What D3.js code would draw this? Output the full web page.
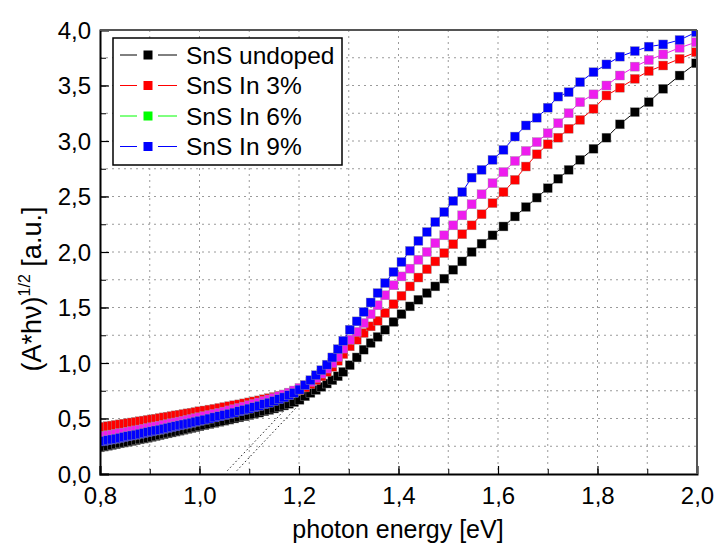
<!DOCTYPE html>
<html>
<head>
<meta charset="utf-8">
<script src="https://cdn.jsdelivr.net/npm/d3@7"></script>
<style>
  body { margin: 0; background: #fff; }
  svg text { font-family: "Liberation Sans", Arial, sans-serif; fill: #000; }
</style>
</head>
<body>
<svg id="chart" width="716" height="552"></svg>
<script>
// photon energy [eV], shared by all four series
var energy = [
  0.800, 0.808, 0.816, 0.824, 0.832, 0.840, 0.848, 0.856, 0.864, 0.872,
  0.880, 0.888, 0.896, 0.904, 0.912, 0.920, 0.928, 0.936, 0.944, 0.952,
  0.960, 0.968, 0.976, 0.984, 0.992, 1.000, 1.010, 1.020, 1.030, 1.040,
  1.050, 1.060, 1.070, 1.080, 1.090, 1.100, 1.110, 1.120, 1.130, 1.140,
  1.150, 1.160, 1.170, 1.180, 1.190, 1.201, 1.212, 1.223, 1.234, 1.245,
  1.256, 1.267, 1.278, 1.289, 1.302, 1.316, 1.330, 1.344, 1.358, 1.373,
  1.390, 1.406, 1.423, 1.440, 1.457, 1.474, 1.492, 1.510, 1.528, 1.547,
  1.567, 1.589, 1.611, 1.634, 1.656, 1.678, 1.700, 1.721, 1.742, 1.765,
  1.792, 1.818, 1.845, 1.875, 1.903, 1.932, 1.965, 1.998];

var undoped = [
  0.240, 0.247, 0.254, 0.261, 0.268, 0.276, 0.283, 0.290, 0.297, 0.304,
  0.312, 0.319, 0.326, 0.334, 0.342, 0.350, 0.358, 0.366, 0.374, 0.382,
  0.390, 0.398, 0.406, 0.414, 0.422, 0.430, 0.440, 0.450, 0.460, 0.470,
  0.480, 0.490, 0.500, 0.510, 0.520, 0.531, 0.542, 0.553, 0.565, 0.577,
  0.590, 0.603, 0.617, 0.632, 0.648, 0.668, 0.700, 0.730, 0.757, 0.785,
  0.815, 0.845, 0.880, 0.920, 0.980, 1.050, 1.120, 1.180, 1.235, 1.300,
  1.370, 1.440, 1.510, 1.570, 1.630, 1.690, 1.760, 1.840, 1.915, 2.000,
  2.075, 2.150, 2.230, 2.320, 2.405, 2.490, 2.575, 2.660, 2.740, 2.830,
  2.930, 3.030, 3.150, 3.260, 3.350, 3.470, 3.590, 3.700];

var in3 = [
  0.420, 0.425, 0.431, 0.436, 0.442, 0.447, 0.453, 0.458, 0.464, 0.469,
  0.475, 0.481, 0.487, 0.492, 0.498, 0.504, 0.510, 0.516, 0.522, 0.528,
  0.534, 0.540, 0.546, 0.552, 0.558, 0.565, 0.572, 0.580, 0.587, 0.595,
  0.603, 0.611, 0.619, 0.627, 0.636, 0.645, 0.654, 0.663, 0.673, 0.683,
  0.693, 0.704, 0.715, 0.727, 0.740, 0.755, 0.780, 0.810, 0.845, 0.880,
  0.920, 0.965, 1.020, 1.080, 1.150, 1.210, 1.270, 1.330, 1.380, 1.450,
  1.530, 1.605, 1.690, 1.770, 1.845, 1.915, 1.990, 2.070, 2.160, 2.240,
  2.340, 2.440, 2.540, 2.650, 2.770, 2.880, 2.970, 3.030, 3.110, 3.190,
  3.290, 3.410, 3.480, 3.560, 3.630, 3.680, 3.740, 3.800];

var in6 = [
  0.335, 0.341, 0.347, 0.354, 0.360, 0.367, 0.373, 0.380, 0.386, 0.393,
  0.400, 0.407, 0.414, 0.421, 0.428, 0.435, 0.442, 0.449, 0.457, 0.464,
  0.472, 0.479, 0.487, 0.495, 0.503, 0.511, 0.521, 0.531, 0.541, 0.551,
  0.562, 0.573, 0.584, 0.595, 0.607, 0.619, 0.631, 0.644, 0.657, 0.671,
  0.685, 0.700, 0.716, 0.733, 0.752, 0.775, 0.800, 0.830, 0.865, 0.905,
  0.950, 1.000, 1.055, 1.130, 1.210, 1.280, 1.360, 1.440, 1.520, 1.610,
  1.700, 1.780, 1.850, 1.930, 2.000, 2.080, 2.150, 2.240, 2.330, 2.430,
  2.520, 2.620, 2.720, 2.820, 2.910, 2.990, 3.070, 3.160, 3.250, 3.350,
  3.420, 3.500, 3.590, 3.670, 3.730, 3.780, 3.840, 3.890];

var in9 = [
  0.290, 0.297, 0.304, 0.311, 0.318, 0.325, 0.333, 0.340, 0.347, 0.354,
  0.362, 0.369, 0.377, 0.384, 0.392, 0.399, 0.407, 0.415, 0.423, 0.430,
  0.438, 0.446, 0.454, 0.462, 0.471, 0.479, 0.489, 0.499, 0.510, 0.520,
  0.531, 0.542, 0.553, 0.565, 0.577, 0.589, 0.601, 0.614, 0.628, 0.642,
  0.657, 0.673, 0.690, 0.709, 0.730, 0.760, 0.800, 0.845, 0.890, 0.935,
  0.985, 1.050, 1.125, 1.200, 1.300, 1.375, 1.460, 1.545, 1.630, 1.720,
  1.820, 1.910, 2.010, 2.100, 2.180, 2.270, 2.360, 2.460, 2.540, 2.670,
  2.740, 2.830, 2.920, 3.040, 3.140, 3.210, 3.300, 3.400, 3.440, 3.530,
  3.620, 3.690, 3.760, 3.810, 3.850, 3.870, 3.910, 3.980];

var seriesNames = ["SnS undoped", "SnS In 3%", "SnS In 6%", "SnS In 9%"];
var plotColors = ["#000000", "#ff0000", "#ee1cee", "#0000ff"];
var legendColors = ["#000000", "#ff0000", "#00ff00", "#0000ff"];

// dotted tangent (extrapolation) lines: [energy, value] start and end
var tangentStart = [[1.056, 0.03], [1.075, 0.03]];
var tangentEnd = [[1.30, 1.19], [1.30, 1.10]];

var xTicks = [0.8, 1.0, 1.2, 1.4, 1.6, 1.8, 2.0];
var yTicks = [0, 0.5, 1.0, 1.5, 2.0, 2.5, 3.0, 3.5, 4.0];

var svg = d3.select("svg#chart"),
    margin = { top: 30, right: 19, bottom: 78, left: 100 },
    width = 716 - margin.left - margin.right,
    height = 552 - margin.top - margin.bottom,
    g = svg.append("g").attr("transform", "translate(" + margin.left + "," + margin.top + ")");

var x = d3.scaleLinear().domain([0.8, 2.0]).range([0, width]);
var y = d3.scaleLinear().domain([0, 4]).range([height, 0]);

var comma = d3.formatLocale({ decimal: ",", thousands: ".", grouping: [3], currency: ["", ""] }).format(".1f");

// dotted grid on every minor tick
var xMinor = x.ticks(12);
var yMinor = d3.range(0, 4.001, 0.25);

g.append("g").selectAll("line")
    .data(xMinor.filter(function (d) { return d > 0.81 && d < 1.99; }))
    .enter().append("line")
    .attr("x1", function (d) { return x(d); })
    .attr("x2", function (d) { return x(d); })
    .attr("y1", 0).attr("y2", height)
    .attr("stroke", "#9a9a9a")
    .attr("stroke-dasharray", "2,4");

g.append("g").selectAll("line")
    .data(yMinor.filter(function (d) { return d > 0.01 && d < 3.99; }))
    .enter().append("line")
    .attr("x1", 0).attr("x2", width)
    .attr("y1", function (d) { return y(d); })
    .attr("y2", function (d) { return y(d); })
    .attr("stroke", "#9a9a9a")
    .attr("stroke-dasharray", "2,4");

svg.append("clipPath").attr("id", "plotclip")
    .append("rect").attr("width", width).attr("height", height);

var plot = g.append("g").attr("clip-path", "url(#plotclip)");

// tangent lines
plot.selectAll(".tangent")
    .data(tangentStart.map(function (s, i) { return [s, tangentEnd[i]]; }))
    .enter().append("line")
    .attr("class", "tangent")
    .attr("x1", function (d) { return x(d[0][0]); })
    .attr("y1", function (d) { return y(d[0][1]); })
    .attr("x2", function (d) { return x(d[1][0]); })
    .attr("y2", function (d) { return y(d[1][1]); })
    .attr("stroke", "#222")
    .attr("stroke-width", 1)
    .attr("stroke-dasharray", "1.5,2.5");

var allSeries = [undoped, in3, in6, in9];
var line = d3.line()
    .x(function (d) { return x(d[0]); })
    .y(function (d) { return y(d[1]); });

var m = 9;
allSeries.forEach(function (vals, i) {
    var pts = energy.map(function (e, k) { return [e, vals[k]]; });
    plot.append("path")
        .datum(pts)
        .attr("fill", "none")
        .attr("stroke", plotColors[i])
        .attr("stroke-width", 1)
        .attr("d", line);
    plot.append("g").selectAll("rect")
        .data(pts)
        .enter().append("rect")
        .attr("x", function (d) { return x(d[0]) - m / 2; })
        .attr("y", function (d) { return y(d[1]) - m / 2; })
        .attr("width", m).attr("height", m)
        .attr("fill", plotColors[i])
        .attr("stroke", "#999")
        .attr("stroke-width", 0.4);
});

// axes: inward ticks
g.append("g")
    .attr("transform", "translate(0," + height + ")")
    .call(d3.axisBottom(x).tickValues(xMinor).tickSize(-5).tickFormat(""))
    .call(function (a) { a.select(".domain").remove(); });
var xAxis = g.append("g")
    .attr("transform", "translate(0," + height + ")")
    .call(d3.axisBottom(x).tickValues(xTicks).tickSize(-8).tickPadding(13).tickFormat(comma));

g.append("g")
    .call(d3.axisLeft(y).tickValues(yMinor).tickSize(-6).tickFormat(""))
    .call(function (a) { a.select(".domain").remove(); });
var yAxis = g.append("g")
    .call(d3.axisLeft(y).tickValues(yTicks).tickSize(-9).tickPadding(9).tickFormat(comma));

[xAxis, yAxis].forEach(function (a) {
    a.select(".domain").attr("stroke-width", 2).attr("stroke", "#000");
    a.selectAll(".tick line").attr("stroke", "#000").attr("stroke-width", 1.2);
    a.selectAll("text").style("font-size", "24px").attr("fill", "#000");
});
xAxis.selectAll("text").attr("dy", "0.71em");
yAxis.selectAll("text").attr("dy", "0.35em");

// top and right frame
g.append("line").attr("x1", 0).attr("x2", width).attr("y1", 0).attr("y2", 0)
    .attr("stroke", "#555").attr("stroke-width", 2);
g.append("line").attr("x1", width).attr("x2", width).attr("y1", 0).attr("y2", height)
    .attr("stroke", "#555").attr("stroke-width", 2);

// axis titles
svg.append("text")
    .attr("x", 398).attr("y", 538)
    .attr("text-anchor", "middle")
    .style("font-size", "25px")
    .text("photon energy [eV]");

var yt = svg.append("text")
    .attr("transform", "translate(41,289) rotate(-90)")
    .attr("text-anchor", "middle")
    .style("font-size", "27px");
yt.append("tspan").text("(A*h\u03bd)");
yt.append("tspan").attr("dy", -11).style("font-size", "16px").text("1/2");
yt.append("tspan").attr("dy", 11).text(" [a.u.]");

// legend
var legend = svg.append("g").attr("transform", "translate(113,38)");
legend.append("rect")
    .attr("width", 229).attr("height", 127)
    .attr("fill", "#fff").attr("stroke", "#000").attr("stroke-width", 1.5);

var item = legend.selectAll(".item")
    .data(seriesNames)
    .enter().append("g")
    .attr("class", "item")
    .attr("transform", function (d, i) { return "translate(0," + (17 + i * 30.5) + ")"; });

item.append("line").attr("x1", 7).attr("x2", 24)
    .attr("stroke", function (d, i) { return legendColors[i]; });
item.append("line").attr("x1", 45).attr("x2", 64)
    .attr("stroke", function (d, i) { return legendColors[i]; });
item.append("rect")
    .attr("x", 30.5).attr("y", -4.5).attr("width", 9).attr("height", 9)
    .attr("fill", function (d, i) { return legendColors[i]; });
item.append("text")
    .attr("x", 73).attr("y", 8.5)
    .style("font-size", "24.5px")
    .text(function (d) { return d; });
</script>
</body>
</html>
